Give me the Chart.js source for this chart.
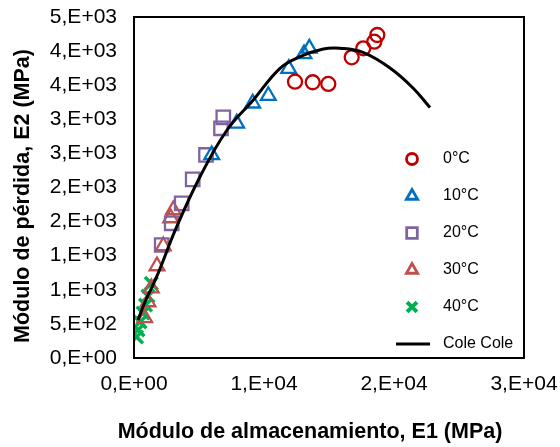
<!DOCTYPE html>
<html>
<head>
<meta charset="utf-8">
<script src="https://cdn.jsdelivr.net/npm/chart.js@4.4.1/dist/chart.umd.min.js"></script>
<style>
  html, body { margin: 0; padding: 0; background: #fff; }
</style>
</head>
<body>
<canvas id="chart" width="560" height="447"></canvas>
<script>
// tick labels as printed on the original (Excel "0,E+00" format)
const xTickLabels = ["0,E+00", "1,E+04", "2,E+04", "3,E+04"];
const yTickLabels = ["0,E+00", "5,E+02", "1,E+03", "1,E+03", "2,E+03", "2,E+03",
                     "3,E+03", "3,E+03", "4,E+03", "4,E+03", "5,E+03"];
const xTitle = "Módulo de almacenamiento, E1 (MPa)";
const yTitle = "Módulo de pérdida, E2 (MPa)";

// E1 (storage) / E2 (loss) in MPa
const e1_0C  = [12385, 13746, 14946, 16746, 17638, 18485, 18715];
const e2_0C  = [4051, 4043, 4018, 4409, 4541, 4638, 4736];
const e1_10C = [5977, 7900, 9131, 10331, 11900, 13077, 13485];
const e2_10C = [2977, 3441, 3735, 3846, 4242, 4458, 4541];
const e1_20C = [2131, 2900, 3669, 4515, 5538, 6692, 6869];
const e2_20C = [1657, 1975, 2268, 2620, 2977, 3368, 3529];
const e1_30C = [823, 1077, 1331, 1769, 2254, 2823, 3023];
const e2_30C = [587, 821, 1026, 1349, 1642, 2053, 2170];
const e1_40C = [192, 308, 462, 692, 885, 1077, 1331];
const e2_40C = [308, 411, 528, 660, 777, 909, 1095];
const e1_cole = [308, 846, 1746, 3285, 5077, 7131, 9177, 11231, 12769, 14562, 15846, 17615, 19692, 21462, 22769];
const e2_cole = [557, 821, 1192, 1925, 2658, 3336, 3783, 4248, 4418, 4531, 4541, 4480, 4252, 3959, 3673];

const pts = (xs, ys) => xs.map((x, i) => ({ x, y: ys[i] }));
const FONT = "'Liberation Sans', Arial, sans-serif";

const series = [
  { label: "0°C",  data: pts(e1_0C, e2_0C),   color: "#C00000", style: "circle",   r: 7,   lr: 5.5, bw: 2.3 },
  { label: "10°C", data: pts(e1_10C, e2_10C), color: "#0070C0", style: "triangle", r: 8.5, lr: 6.5, bw: 2.3 },
  { label: "20°C", data: pts(e1_20C, e2_20C), color: "#8064A2", style: "rect",     r: 9.5, lr: 7.5, bw: 2.3 },
  { label: "30°C", data: pts(e1_30C, e2_30C), color: "#C0504D", style: "triangle", r: 8.5, lr: 6.5, bw: 2.3 },
  { label: "40°C", data: pts(e1_40C, e2_40C), color: "#00B050", style: "crossRot", r: 9,   lr: 7,   bw: 3.5 },
];

const datasets = series.map((s) => ({
  label: s.label,
  data: s.data,
  showLine: false,
  pointStyle: s.style,
  pointRadius: s.r,
  pointBorderWidth: s.bw,
  pointBorderColor: s.color,
  pointBackgroundColor: "rgba(0,0,0,0)",
  order: 1,
}));
datasets.push({
  label: "Cole Cole",
  data: pts(e1_cole, e2_cole),
  showLine: true,
  borderColor: "#000",
  borderWidth: 3,
  pointRadius: 0,
  tension: 0.4,
  order: 0,
});

// plot frame, axis titles and the legend inside the plot area
const frame = {
  id: "frame",
  afterDraw(chart) {
    const { ctx, chartArea: a } = chart;
    ctx.save();
    ctx.strokeStyle = "#000";
    ctx.lineWidth = 2;
    ctx.strokeRect(a.left, a.top, a.right - a.left, a.bottom - a.top);

    ctx.fillStyle = "#000";
    ctx.textAlign = "center";
    ctx.textBaseline = "middle";
    ctx.font = "bold 21.5px " + FONT;
    ctx.fillText(xTitle, 310, 432);
    ctx.save();
    ctx.translate(23, 196);
    ctx.rotate(-Math.PI / 2);
    ctx.fillText(yTitle, 0, 0);
    ctx.restore();

    const mx = 412, tx = 443, y0 = 159, dy = 37;
    ctx.font = "16px " + FONT;
    ctx.textAlign = "left";
    series.forEach((s, i) => {
      const y = y0 + i * dy;
      ctx.strokeStyle = s.color;
      ctx.fillStyle = "#fff";
      ctx.lineWidth = s.bw + 0.5;
      Chart.helpers.drawPoint(ctx, { pointStyle: s.style, radius: s.lr, borderWidth: s.bw + 0.5 }, mx, y);
      ctx.fillStyle = "#000";
      ctx.fillText(s.label, tx, y);
    });
    const yl = y0 + series.length * dy;
    ctx.strokeStyle = "#000";
    ctx.lineWidth = 3;
    ctx.beginPath();
    ctx.moveTo(396, yl);
    ctx.lineTo(430, yl);
    ctx.stroke();
    ctx.fillText("Cole Cole", tx, yl);
    ctx.restore();
  },
};

// tick label overflow must not push the plot area around
const noOverflow = (s) => {
  s.paddingTop = 0;
  s.paddingBottom = 0;
  s.paddingLeft = 0;
  s.paddingRight = 0;
};

new Chart(document.getElementById("chart"), {
  type: "scatter",
  data: { datasets },
  plugins: [frame],
  options: {
    responsive: false,
    animation: false,
    layout: { padding: { top: 17, right: 36, left: 0, bottom: 0 } },
    plugins: { legend: { display: false }, tooltip: { enabled: false } },
    scales: {
      x: {
        type: "linear",
        min: 0,
        max: 30000,
        afterFit: (s) => { s.height = 89; noOverflow(s); },
        grid: { display: false, drawTicks: false },
        border: { display: false },
        ticks: {
          stepSize: 10000,
          padding: 14,
          color: "#000",
          font: { family: FONT, size: 21 },
          callback: (v) => xTickLabels[Math.round(v / 10000)],
        },
      },
      y: {
        min: 0,
        max: 5000,
        afterFit: (s) => { s.width = 134; noOverflow(s); },
        grid: { display: false, drawTicks: false },
        border: { display: false },
        ticks: {
          stepSize: 500,
          padding: 17,
          color: "#000",
          font: { family: FONT, size: 21 },
          callback: (v) => yTickLabels[Math.round(v / 500)],
        },
      },
    },
  },
});
</script>
</body>
</html>
